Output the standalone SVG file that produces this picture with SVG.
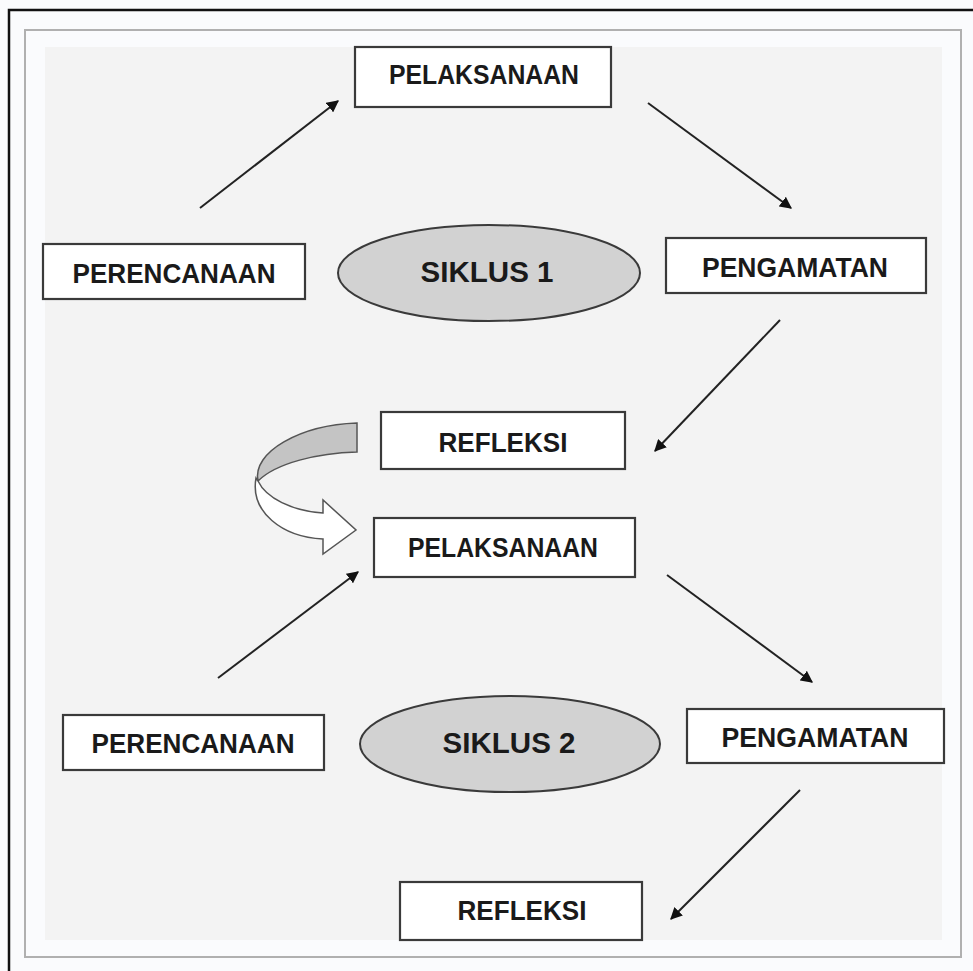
<svg xmlns="http://www.w3.org/2000/svg" width="973" height="971" viewBox="0 0 973 971">
<defs>
<style>
.box{fill:#ffffff;stroke:#3a3a3a;stroke-width:2.2}
.ell{fill:#d2d2d2;stroke:#3a3a3a;stroke-width:2}
.lbl{font-family:"Liberation Sans",Arial,sans-serif;font-weight:bold;font-size:27px;fill:#1a1a1a;text-anchor:middle}
.sik{font-size:29px}
.con{stroke:#222;stroke-width:2;fill:none;marker-end:url(#ah)}
</style>
<marker id="ah" viewBox="0 0 10 10" refX="9" refY="5" markerWidth="6" markerHeight="6" markerUnits="strokeWidth" orient="auto">
<path d="M0,0 L10,5 L0,10 z" fill="#111"/>
</marker>
</defs>
<rect x="0" y="0" width="973" height="971" fill="#fafbfd"/>
<path d="M9,971 L9,10 L973,10" fill="none" stroke="#111" stroke-width="2.5"/>
<rect x="25" y="30" width="936" height="927" fill="#fafbfd" stroke="#b0b0b0" stroke-width="2"/>
<rect x="45" y="47" width="897" height="893" fill="#f3f3f3"/>

<g id="connectors">
<line class="con" x1="200" y1="208" x2="338" y2="101"/>
<line class="con" x1="648" y1="103" x2="791" y2="208"/>
<line class="con" x1="780" y1="320" x2="655" y2="451"/>
<line class="con" x1="218" y1="678" x2="358" y2="572"/>
<line class="con" x1="667" y1="575" x2="812" y2="682"/>
<line class="con" x1="800" y1="790" x2="671" y2="919"/>
<g id="curved-arrow">
<path d="M357,423 L357,452 C318,453 276,463 258,481 C252,452 300,425 357,423 Z" fill="#c4c4c4" stroke="#555" stroke-width="1.5"/>
<path d="M256,478 C250,512 282,537 323,539 L323,554 L356,530 L323,500 L323,513 C292,511 266,498 258,481 Z" fill="#ffffff" stroke="#555" stroke-width="1.5"/>
</g>
</g>

<g id="pelaksanaan1"><rect class="box" x="355" y="47" width="256" height="60"/><text class="lbl" x="484" y="84" textLength="190" lengthAdjust="spacingAndGlyphs">PELAKSANAAN</text></g>
<g id="perencanaan1"><rect class="box" x="43" y="244" width="262" height="55"/><text class="lbl" x="174" y="283" textLength="203" lengthAdjust="spacingAndGlyphs">PERENCANAAN</text></g>
<g id="siklus1"><ellipse class="ell" cx="489" cy="273" rx="151" ry="48"/><text class="lbl sik" x="487" y="282" textLength="133" lengthAdjust="spacingAndGlyphs">SIKLUS 1</text></g>
<g id="pengamatan1"><rect class="box" x="666" y="238" width="260" height="55"/><text class="lbl" x="795" y="277" textLength="186" lengthAdjust="spacingAndGlyphs">PENGAMATAN</text></g>
<g id="refleksi1"><rect class="box" x="381" y="412" width="244" height="57"/><text class="lbl" x="503" y="452" textLength="129" lengthAdjust="spacingAndGlyphs">REFLEKSI</text></g>
<g id="pelaksanaan2"><rect class="box" x="374" y="518" width="261" height="59"/><text class="lbl" x="503" y="557" textLength="190" lengthAdjust="spacingAndGlyphs">PELAKSANAAN</text></g>
<g id="perencanaan2"><rect class="box" x="63" y="715" width="261" height="55"/><text class="lbl" x="193" y="753" textLength="203" lengthAdjust="spacingAndGlyphs">PERENCANAAN</text></g>
<g id="siklus2"><ellipse class="ell" cx="510" cy="744" rx="150" ry="48"/><text class="lbl sik" x="509" y="753" textLength="133" lengthAdjust="spacingAndGlyphs">SIKLUS 2</text></g>
<g id="pengamatan2"><rect class="box" x="687" y="709" width="257" height="54"/><text class="lbl" x="815" y="747" textLength="187" lengthAdjust="spacingAndGlyphs">PENGAMATAN</text></g>
<g id="refleksi2"><rect class="box" x="400" y="882" width="242" height="58"/><text class="lbl" x="522" y="920" textLength="129" lengthAdjust="spacingAndGlyphs">REFLEKSI</text></g>
</svg>
